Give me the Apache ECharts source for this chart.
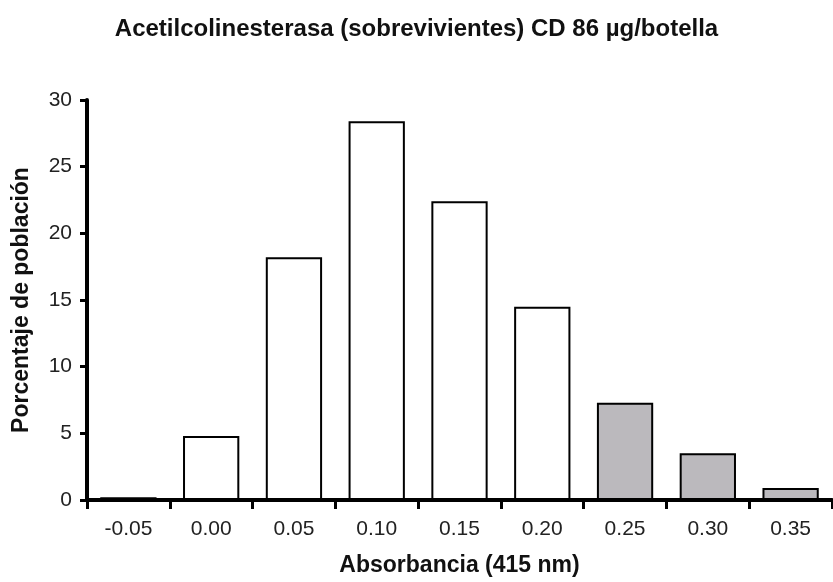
<!DOCTYPE html>
<html>
<head>
<meta charset="utf-8">
<script src="https://cdn.jsdelivr.net/npm/echarts@6/dist/echarts.min.js"></script>
<style>
  html, body { margin: 0; padding: 0; background: #fff; }
  #chart { width: 833px; height: 582px; }
</style>
</head>
<body>
<div id="chart"></div>
<script>
// Absorbance classes (415 nm) and share of the surviving population per class
const categories = ['-0.05', '0.00', '0.05', '0.10', '0.15', '0.20', '0.25', '0.30', '0.35'];
const percentages = [0.2, 4.8, 18.2, 28.4, 22.4, 14.5, 7.3, 3.5, 0.9];
// classes drawn shaded (high absorbance)
const shadedClasses = ['0.25', '0.30', '0.35'];
const yTicks = [0, 5, 10, 15, 20, 25, 30];

const FONT = '"Liberation Sans", Arial, Helvetica, sans-serif';

const chart = echarts.init(document.getElementById('chart'), null, { renderer: 'canvas' });

const barData = categories.map((c, i) => ({
  value: percentages[i],
  itemStyle: shadedClasses.includes(c)
    ? { color: '#bbb9bd', borderColor: '#000', borderWidth: 2 }
    : { color: '#ffffff', borderColor: '#000', borderWidth: 2 }
}));

chart.setOption({
  animation: false,
  backgroundColor: '#ffffff',
  title: {
    text: 'Acetilcolinesterasa (sobrevivientes) CD 86 µg/botella',
    left: 'center',
    top: 12,
    textStyle: { fontFamily: FONT, fontSize: 24, fontWeight: 'bold', color: '#111' }
  },
  grid: { left: 87, right: 1, top: 100, bottom: 79, containLabel: false },
  xAxis: {
    type: 'category',
    data: categories,
    boundaryGap: true,
    name: 'Absorbancia (415 nm)',
    nameLocation: 'middle',
    nameGap: 54,
    nameTextStyle: { fontFamily: FONT, fontSize: 23, fontWeight: 'bold', color: '#111' },
    axisLine: { lineStyle: { color: '#000', width: 4 } },
    axisTick: { show: true, length: 9, lineStyle: { color: '#000', width: 3 } },
    axisLabel: { margin: 19, fontFamily: FONT, fontSize: 21, color: '#222' },
    splitLine: { show: false }
  },
  yAxis: {
    type: 'value',
    min: yTicks[0],
    max: yTicks[yTicks.length - 1],
    interval: yTicks[1] - yTicks[0],
    name: 'Porcentaje de población',
    nameLocation: 'middle',
    nameGap: 54,
    nameTextStyle: { fontFamily: FONT, fontSize: 23, fontWeight: 'bold', color: '#111' },
    axisLine: { show: true, lineStyle: { color: '#000', width: 4 } },
    axisTick: { show: true, length: 7, lineStyle: { color: '#000', width: 3 } },
    axisLabel: { margin: 15, fontFamily: FONT, fontSize: 21, color: '#222' },
    splitLine: { show: false }
  },
  series: [{
    type: 'bar',
    data: barData,
    barWidth: '68%',
    z: 1
  }]
});
</script>
</body>
</html>
